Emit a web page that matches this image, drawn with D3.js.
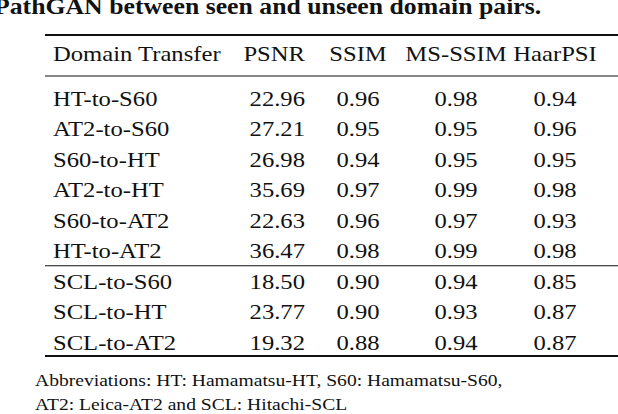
<!DOCTYPE html>
<html><head><meta charset="utf-8">
<script src="https://cdn.jsdelivr.net/npm/d3@7"></script>
<style>body{margin:0;background:#fff}</style></head>
<body><svg id="c" width="618" height="414"></svg>
<script>
const headers = ["Domain Transfer","PSNR","SSIM","MS-SSIM","HaarPSI"];
const transfers = ["HT-to-S60","AT2-to-S60","S60-to-HT","AT2-to-HT","S60-to-AT2","HT-to-AT2","SCL-to-S60","SCL-to-HT","SCL-to-AT2"];
const psnr = ["22.96","27.21","26.98","35.69","22.63","36.47","18.50","23.77","19.32"];
const ssim = ["0.96","0.95","0.94","0.97","0.96","0.98","0.90","0.90","0.88"];
const msssim = ["0.98","0.95","0.95","0.99","0.97","0.99","0.94","0.93","0.94"];
const haarpsi = ["0.94","0.96","0.95","0.98","0.93","0.98","0.85","0.87","0.87"];
const title = "PathGAN between seen and unseen domain pairs.";
const notes = ["Abbreviations: HT: Hamamatsu-HT, S60: Hamamatsu-S60,","AT2: Leica-AT2 and SCL: Hitachi-SCL"];

const svg = d3.select("#c");
const font = "Liberation Serif, serif";
const fs = 22;
const sx = 1.12;
const y = d3.scaleLinear().domain([0, 8]).range([98, 342]);
const ySep = 250;
const cols = [psnr, ssim, msssim, haarpsi];
const colX = [305, 358, 456, 555];
const colAnchor = ["end","middle","middle","middle"];

function put(g, x, yy, anchor, size, txt, weight) {
  return g.append("text").attr("transform", `translate(${x},${yy}) scale(${sx},1)`)
    .attr("dy","0.35em").attr("text-anchor",anchor).attr("font-family",font)
    .attr("font-size",size).attr("font-weight",weight||"normal").attr("fill","#111").text(txt);
}
put(svg, -6, 6, "start", 23, title, "bold");
const hx = [53, 305, 358, 456, 555], ha = ["start","end","middle","middle","middle"];
headers.forEach((h,i)=>put(svg, hx[i], 53, ha[i], fs, h));
transfers.forEach((t,i)=>put(svg, 53, y(i), "start", fs, t));
cols.forEach((c,j)=>c.forEach((v,i)=>put(svg, colX[j], y(i), colAnchor[j], fs, v)));
// separator sits between rows 5 and 6
[[35,2],[76,1],[(y(5)+y(6))/2,1.2],[356,2]].forEach(([yy,w])=>{
  svg.append("line").attr("x1",45).attr("x2",618).attr("y1",yy).attr("y2",yy).attr("stroke","#111").attr("stroke-width",w);
});
notes.forEach((n,i)=>put(svg, 35, 380+i*24, "start", 17.5, n));
</script></body></html>
